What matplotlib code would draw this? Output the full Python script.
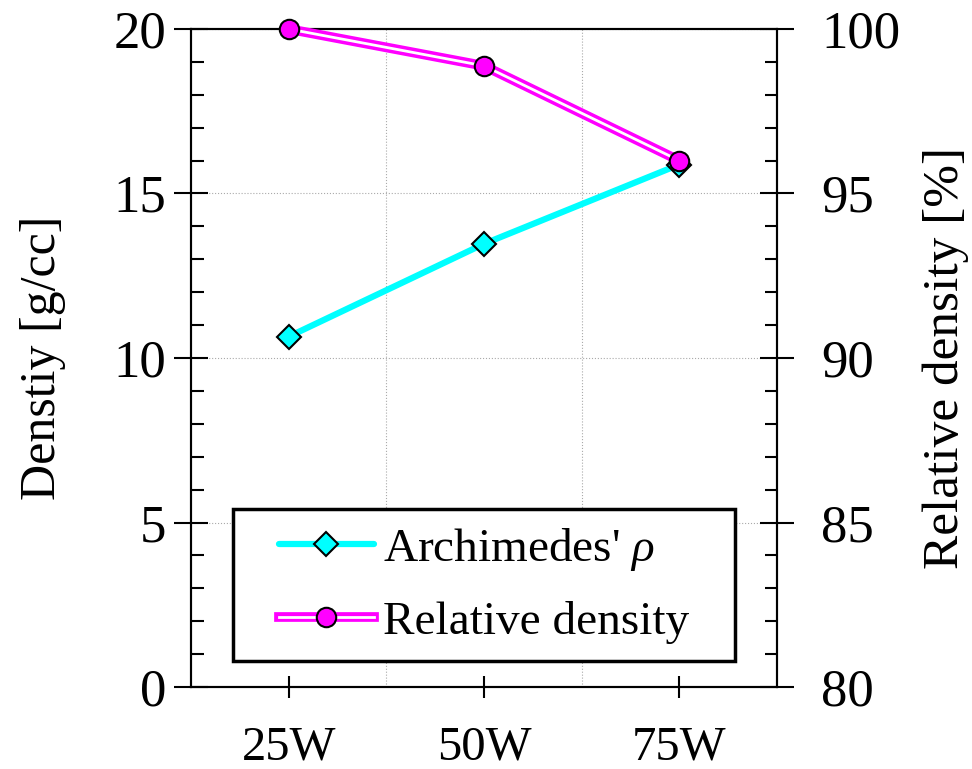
import numpy as np
import matplotlib
matplotlib.use('Agg')
import matplotlib.pyplot as plt
import matplotlib.patheffects as pe
from matplotlib.patches import Rectangle
from matplotlib.ticker import MultipleLocator, FixedLocator

plt.rcParams['font.family'] = ['Liberation Serif', 'DejaVu Serif']
plt.rcParams['mathtext.fontset'] = 'custom'
plt.rcParams['mathtext.rm'] = 'Liberation Serif'
plt.rcParams['mathtext.it'] = 'Liberation Serif:italic'

powers = ['25W', '50W', '75W']
archimedes = [10.65, 13.47, 15.88]      # g/cc
relative = [100.0, 98.88, 96.0]         # %

x = np.arange(1, len(powers) + 1)

fig = plt.figure(figsize=(9.72, 7.69), dpi=100)
ax = fig.add_axes([0.1965, 0.1066, 0.6029, 0.8557])
ax2 = ax.twinx()

# Archimedes density (left axis)
l1, = ax.plot(x, archimedes, color='#00ffff', lw=4.5, solid_capstyle='round',
              marker='D', ms=12, mfc='#00ffff', mec='black', mew=1.5,
              clip_on=False, zorder=3)

# relative density (right axis): magenta double line
l2, = ax2.plot(x, relative, color='white', lw=2,
               path_effects=[pe.Stroke(linewidth=7, foreground='#ff00ff'), pe.Normal()],
               clip_on=False, zorder=3)
m2, = ax2.plot(x, relative, ls='none', marker='o', ms=14, mfc='#ff00ff',
               mec='black', mew=1.5, clip_on=False, zorder=4)

ax.set_xlim(0.5, 3.5)
ax.set_ylim(0, 20)
ax2.set_ylim(80, 100)

ax.set_xticks(x)
ax.set_xticklabels(powers)
ax.xaxis.set_minor_locator(FixedLocator([1.5, 2.5]))
ax.yaxis.set_major_locator(MultipleLocator(5))
ax.yaxis.set_minor_locator(MultipleLocator(1))
ax2.yaxis.set_major_locator(MultipleLocator(5))
ax2.yaxis.set_minor_locator(MultipleLocator(1))

ax.tick_params(axis='y', which='major', direction='inout', length=24, width=1.5,
               labelsize=38, pad=6)
ax.tick_params(axis='y', which='minor', direction='in', length=9, width=1.5)
ax.tick_params(axis='x', which='major', direction='inout', length=16, width=1.5,
               labelsize=35, pad=20)
ax.tick_params(axis='x', which='minor', length=0)
ax2.tick_params(axis='y', which='major', direction='inout', length=24, width=1.5,
                labelsize=38, pad=20)
ax2.tick_params(axis='y', which='minor', direction='in', length=9, width=1.5)

ax.grid(which='minor', axis='x', color='#aaaaaa', ls=':', lw=0.8)
ax.grid(which='major', axis='y', color='#aaaaaa', ls=':', lw=0.8)

for a in (ax, ax2):
    for s in a.spines.values():
        s.set_linewidth(1.5)

ax.set_ylabel('Denstiy [g/cc]', fontsize=36, labelpad=34)
ax2.set_ylabel('Relative density [%]', fontsize=37, labelpad=16)

# legend frame drawn as its own box, legend content centred inside it
box = (0.0717, 0.04, 0.857, 0.231)
ax2.add_patch(Rectangle(box[:2], box[2], box[3], transform=ax2.transAxes,
                        facecolor='white', edgecolor='black', lw=2.5, zorder=9))
leg = ax2.legend([l1, (l2, m2)], ["Archimedes' $\\rho$", 'Relative density'],
                 loc='center', bbox_to_anchor=box, borderaxespad=0, fontsize=34,
                 handlelength=2.0, handletextpad=0.2, labelspacing=0.6,
                 borderpad=0.2, frameon=False)
leg.set_zorder(10)

fig.savefig('out.png', dpi=100)
